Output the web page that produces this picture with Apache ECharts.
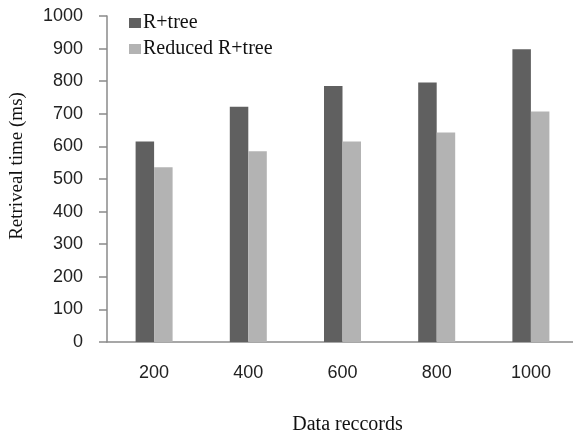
<!DOCTYPE html>
<html>
<head>
<meta charset="utf-8">
<script src="https://cdn.jsdelivr.net/npm/echarts@6/dist/echarts.min.js"></script>
<style>
  html, body { margin: 0; padding: 0; background: #fff; }
  #chart { width: 573px; height: 433px; }
</style>
</head>
<body>
<div id="chart"></div>
<script>
// Number of data records on the x axis
const categories = ['200', '400', '600', '800', '1000'];
// Retrieval time in ms for each index structure
const rtreeTimes = [615, 722, 785, 796, 898];
const reducedTimes = [536, 585, 615, 643, 707];
const seriesNames = ['R+tree', 'Reduced R+tree'];
const yTicks = { min: 0, max: 1000, interval: 100 };

const SERIF = 'Liberation Serif';
const SANS = 'Liberation Sans';
const AXIS_GRAY = '#8a8a8a';

const chart = echarts.init(document.getElementById('chart'));
chart.setOption({
  animation: false,
  backgroundColor: '#ffffff',
  grid: { left: 107, top: 16, width: 471, bottom: 91, containLabel: false, outerBoundsMode: 'none' },
  legend: {
    orient: 'vertical',
    left: 124,
    top: 8,
    itemWidth: 12,
    itemHeight: 10,
    itemGap: 6,
    icon: 'rect',
    textStyle: { fontFamily: SERIF, fontSize: 20, color: '#111', padding: [0, 0, 0, -3] },
    data: seriesNames
  },
  xAxis: {
    type: 'category',
    data: categories,
    axisTick: { show: false },
    axisLine: { lineStyle: { color: AXIS_GRAY, width: 1.5 } },
    axisLabel: { fontFamily: SANS, fontSize: 18, color: '#222', margin: 22 },
    name: 'Data reccords',
    nameLocation: 'middle',
    nameGap: 73,
    nameTextStyle: { fontFamily: SERIF, fontSize: 20, color: '#111', padding: [0, 0, 0, 10] }
  },
  yAxis: {
    type: 'value',
    min: yTicks.min,
    max: yTicks.max,
    interval: yTicks.interval,
    splitLine: { show: false },
    axisLine: { show: true, lineStyle: { color: AXIS_GRAY, width: 1.5 } },
    axisTick: { show: true, inside: false, length: 8, lineStyle: { color: AXIS_GRAY, width: 1.5 } },
    axisLabel: { fontFamily: SANS, fontSize: 18, color: '#222', margin: 24, formatter: (v) => String(v) },
    name: 'Retriveal time (ms)',
    nameLocation: 'middle',
    nameGap: 80,
    nameRotate: 90,
    nameTextStyle: { fontFamily: SERIF, fontSize: 19, color: '#111', padding: [0, 0, 0, 26] }
  },
  series: [
    {
      name: seriesNames[0],
      type: 'bar',
      data: rtreeTimes,
      barWidth: 18.5,
      barGap: '0%',
      itemStyle: { color: '#606060' }
    },
    {
      name: seriesNames[1],
      type: 'bar',
      data: reducedTimes,
      barWidth: 18.5,
      barGap: '0%',
      itemStyle: { color: '#b3b3b3' }
    }
  ]
});
</script>
</body>
</html>
